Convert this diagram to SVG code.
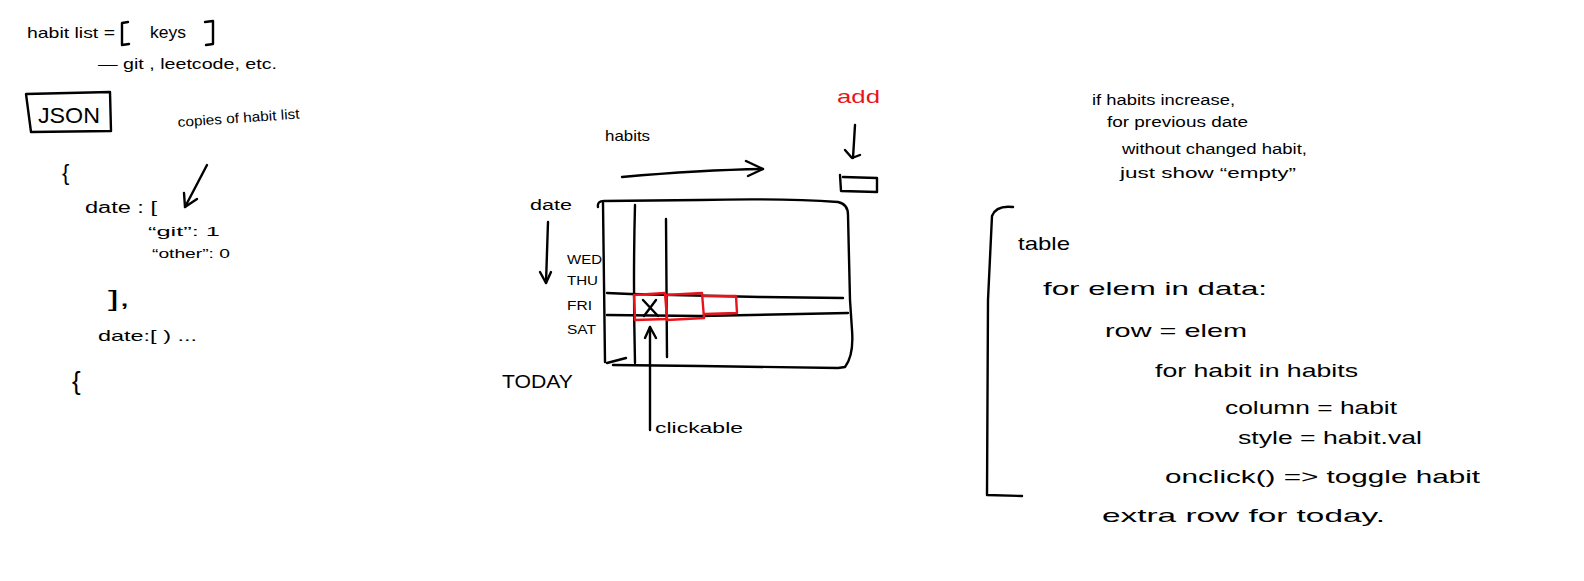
<svg xmlns="http://www.w3.org/2000/svg" width="1584" height="581" viewBox="0 0 1584 581">
<defs>
<style>
.t{font-family:"Liberation Sans",Arial,sans-serif;fill:#000;}
.s{fill:none;stroke:#000;stroke-width:2.4;stroke-linecap:round;stroke-linejoin:round;}
.r{fill:none;stroke:#e8141b;stroke-width:2.4;stroke-linecap:round;stroke-linejoin:round;}
.red{fill:#e8141b;}
</style>
</defs>
<rect width="1584" height="581" fill="#fff"/>

<g id="habit-list">
<text class="t" x="27" y="38" font-size="15" textLength="88" lengthAdjust="spacingAndGlyphs">habit list =</text>
<path class="s" d="M128 22 L122 23 L122 45 L129 44"/>
<text class="t" x="150" y="38" font-size="16" textLength="36" lengthAdjust="spacingAndGlyphs">keys</text>
<path class="s" d="M205 22 L213 21 L213 44 L206 45"/>
<text class="t" x="98" y="69" font-size="14" textLength="179" lengthAdjust="spacingAndGlyphs">— git , leetcode, etc.</text>
</g>

<g id="json">
<path class="s" d="M26 94 L110 92 L111 131 L31 132 Z"/>
<text class="t" x="38" y="123" font-size="22" textLength="62" lengthAdjust="spacingAndGlyphs">JSON</text>
<text class="t" x="178" y="127" font-size="14" textLength="122" lengthAdjust="spacingAndGlyphs" transform="rotate(-4 178 127)">copies of habit list</text>
</g>

<g id="json-body">
<text class="t" x="62" y="180" font-size="22">{</text>
<text class="t" x="85" y="213" font-size="16" textLength="72" lengthAdjust="spacingAndGlyphs">date : [</text>
<text class="t" x="148" y="236" font-size="13" textLength="72" lengthAdjust="spacingAndGlyphs">“git”: 1</text>
<text class="t" x="152" y="258" font-size="13" textLength="78" lengthAdjust="spacingAndGlyphs">“other”: 0</text>
<text class="t" x="108" y="306" font-size="22" textLength="22" lengthAdjust="spacingAndGlyphs">],</text>
<text class="t" x="98" y="341" font-size="15" textLength="99" lengthAdjust="spacingAndGlyphs">date:[ ) ...</text>
<text class="t" x="72" y="390" font-size="26">{</text>
</g>

<g id="grid">
<path class="s" d="M598 207 Q597 201 604 201 L700 200 Q780 198 838 202 Q848 204 848 215 L850 300 L852 330 Q854 355 845 367 L838 368 L700 366 L613 365"/>
<path class="s" d="M603 203 L605 362"/>
<path class="s" d="M607 363 L626 358"/>
<path class="s" d="M635 205 Q633 280 635 363"/>
<path class="s" d="M666 219 L667 357"/>
<path class="s" d="M607 293 L630 294 L760 297 L843 298"/>
<path class="s" d="M607 315 L700 316 L848 313"/>
<path class="r" d="M634 295 L665 293 L667 319 L635 320 Z"/>
<path class="r" d="M666 295 L702 293 L704 318 L667 320 Z"/>
<path class="r" d="M703 296 L736 296 L737 313 L705 314"/>
<path class="s" d="M643 300 L658 316 M656 300 L644 316"/>
</g>

<g id="days">
<text class="t" x="567" y="264" font-size="13" textLength="35" lengthAdjust="spacingAndGlyphs">WED</text>
<text class="t" x="567" y="285" font-size="13" textLength="31" lengthAdjust="spacingAndGlyphs">THU</text>
<text class="t" x="567" y="310" font-size="13" textLength="25" lengthAdjust="spacingAndGlyphs">FRI</text>
<text class="t" x="567" y="334" font-size="13" textLength="29" lengthAdjust="spacingAndGlyphs">SAT</text>
<text class="t" x="502" y="388" font-size="18" textLength="71" lengthAdjust="spacingAndGlyphs">TODAY</text>
</g>

<g id="labels">
<text class="t" x="530" y="210" font-size="14" textLength="42" lengthAdjust="spacingAndGlyphs">date</text>
<text class="t" x="605" y="141" font-size="15" textLength="45" lengthAdjust="spacingAndGlyphs">habits</text>
<text class="t red" x="837" y="103" font-size="19" textLength="43" lengthAdjust="spacingAndGlyphs">add</text>
<path class="s" d="M840 175 L841 191 L877 192 L877 178 L843 177"/>
<text class="t" x="655" y="433" font-size="15" textLength="88" lengthAdjust="spacingAndGlyphs">clickable</text>
</g>

<g id="notes">
<text class="t" x="1092" y="105" font-size="14" textLength="143" lengthAdjust="spacingAndGlyphs">if habits increase,</text>
<text class="t" x="1107" y="127" font-size="14" textLength="141" lengthAdjust="spacingAndGlyphs">for previous date</text>
<text class="t" x="1122" y="154" font-size="14" textLength="185" lengthAdjust="spacingAndGlyphs">without changed habit,</text>
<text class="t" x="1120" y="178" font-size="14" textLength="176" lengthAdjust="spacingAndGlyphs">just show “empty”</text>
</g>

<g id="pseudocode">
<path class="s" d="M1013 207 Q996 205 992 216 L988 300 L987 495 L1022 496"/>
<text class="t" x="1018" y="250" font-size="19" textLength="52" lengthAdjust="spacingAndGlyphs">table</text>
<text class="t" x="1043" y="295" font-size="19" textLength="224" lengthAdjust="spacingAndGlyphs">for elem in data:</text>
<text class="t" x="1105" y="337" font-size="19" textLength="142" lengthAdjust="spacingAndGlyphs">row = elem</text>
<text class="t" x="1155" y="377" font-size="19" textLength="203" lengthAdjust="spacingAndGlyphs">for habit in habits</text>
<text class="t" x="1225" y="414" font-size="19" textLength="172" lengthAdjust="spacingAndGlyphs">column = habit</text>
<text class="t" x="1238" y="444" font-size="19" textLength="184" lengthAdjust="spacingAndGlyphs">style = habit.val</text>
<text class="t" x="1165" y="483" font-size="19" textLength="315" lengthAdjust="spacingAndGlyphs">onclick() =&gt; toggle habit</text>
<text class="t" x="1102" y="522" font-size="19" textLength="283" lengthAdjust="spacingAndGlyphs">extra row for today.</text>
</g>

<g id="connectors">
<path class="s" d="M207 165 L185 207"/>
<path class="s" d="M184 193 L185 207 L197 199"/>
<path class="s" d="M548 222 L546 283"/>
<path class="s" d="M540 272 L546 283 L551 272"/>
<path class="s" d="M622 177 Q700 170 763 169"/>
<path class="s" d="M746 161 L763 169 L748 176"/>
<path class="s" d="M855 125 L853 158"/>
<path class="s" d="M845 150 L852 158 L860 155"/>
<path class="s" d="M650 430 L650 327"/>
<path class="s" d="M645 338 L650 327 L656 338"/>
</g>
</svg>
